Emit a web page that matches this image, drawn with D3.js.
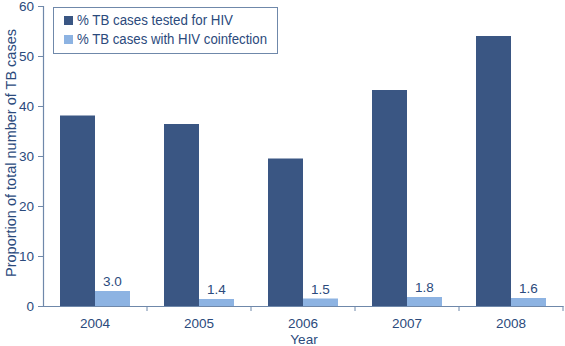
<!DOCTYPE html>
<html><head><meta charset="utf-8">
<script src="https://cdn.jsdelivr.net/npm/d3@7"></script>
<style>body{margin:0;background:#fff}svg{display:block;font-family:"Liberation Sans",Arial,sans-serif}</style>
</head><body><svg id="c" width="565" height="346"></svg>
<script>
const years = ["2004","2005","2006","2007","2008"];
const tested = [38.1, 36.4, 29.5, 43.2, 54.0];
const coinfection = [3.0, 1.4, 1.5, 1.8, 1.6];
const seriesNames = ["% TB cases tested for HIV", "% TB cases with HIV coinfection"];
const yTicks = [0,10,20,30,40,50,60];

const textCol = "#2b4a7c", axisCol = "#6f88aa";
const colors = ["#3a5683", "#8db3e2"];
const FS = 13.5;
const svg = d3.select("#c");
const m = {l:43, r:2, t:6, b:40};
const W = 565, H = 346;
const x = d3.scaleBand().domain(years).range([m.l, W - m.r]).paddingInner(0).paddingOuter(0);
const y = d3.scaleLinear().domain([0,60]).range([H - m.b, m.t]);
const barW = 35;

const g = svg.append("g");
years.forEach((yr, i) => {
  const cx = x(yr) + x.bandwidth()/2;
  g.append("rect").attr("x", cx - barW).attr("width", barW)
    .attr("y", y(tested[i])).attr("height", y(0) - y(tested[i])).attr("fill", colors[0]);
  g.append("rect").attr("x", cx).attr("width", barW)
    .attr("y", y(coinfection[i])).attr("height", y(0) - y(coinfection[i])).attr("fill", colors[1]);
  g.append("text").attr("x", cx + barW/2).attr("y", y(coinfection[i]) - 5)
    .attr("text-anchor","middle").attr("font-size",FS).attr("fill",textCol)
    .text(coinfection[i].toFixed(1));
});

// y axis
const ya = svg.append("g").attr("transform",`translate(${m.l},0)`)
  .call(d3.axisLeft(y).tickValues(yTicks).tickSize(5).tickPadding(4));
ya.select(".domain").attr("stroke",axisCol).attr("stroke-width",1.2);
ya.selectAll(".tick line").attr("stroke",axisCol);
ya.selectAll("text").attr("fill",textCol).attr("font-size",13.5).attr("dy","0.36em")
  .attr("font-family","Liberation Sans, Arial, sans-serif");

// x axis
const xa = svg.append("g").attr("transform",`translate(0,${y(0)})`)
  .call(d3.axisBottom(x).tickSize(0).tickPadding(12));
xa.select(".domain").attr("stroke",axisCol).attr("stroke-width",1.2);
xa.selectAll("text").attr("fill",textCol).attr("font-size",FS).attr("font-family","Liberation Sans, Arial, sans-serif");
xa.selectAll(".sep").data(years).enter().append("line").attr("class","sep")
  .attr("x1", d => x(d) + x.bandwidth()).attr("x2", d => x(d) + x.bandwidth())
  .attr("y1", 0).attr("y2", 5).attr("stroke", axisCol);

svg.append("text").attr("x", 304).attr("y", 343.5).attr("text-anchor","middle")
  .attr("font-size",FS).attr("fill",textCol).text("Year");
svg.append("text").attr("transform","translate(16,153) rotate(-90)").attr("text-anchor","middle")
  .attr("font-size",14.5).attr("fill",textCol).text("Proportion of total number of TB cases");

// legend
const lg = svg.append("g");
lg.append("rect").attr("x",53.5).attr("y",7.5).attr("width",224).attr("height",46)
  .attr("fill","#fff").attr("stroke",axisCol).attr("stroke-width",1);
const legW = [156, 190];
seriesNames.forEach((n,i) => {
  lg.append("rect").attr("x",64).attr("y",16 + i*19).attr("width",9).attr("height",9).attr("fill",colors[i]);
  lg.append("text").attr("x",77).attr("y",25 + i*19).attr("font-size",14).attr("fill",textCol)
    .attr("textLength", legW[i]).attr("lengthAdjust","spacingAndGlyphs").text(n);
});
</script></body></html>
